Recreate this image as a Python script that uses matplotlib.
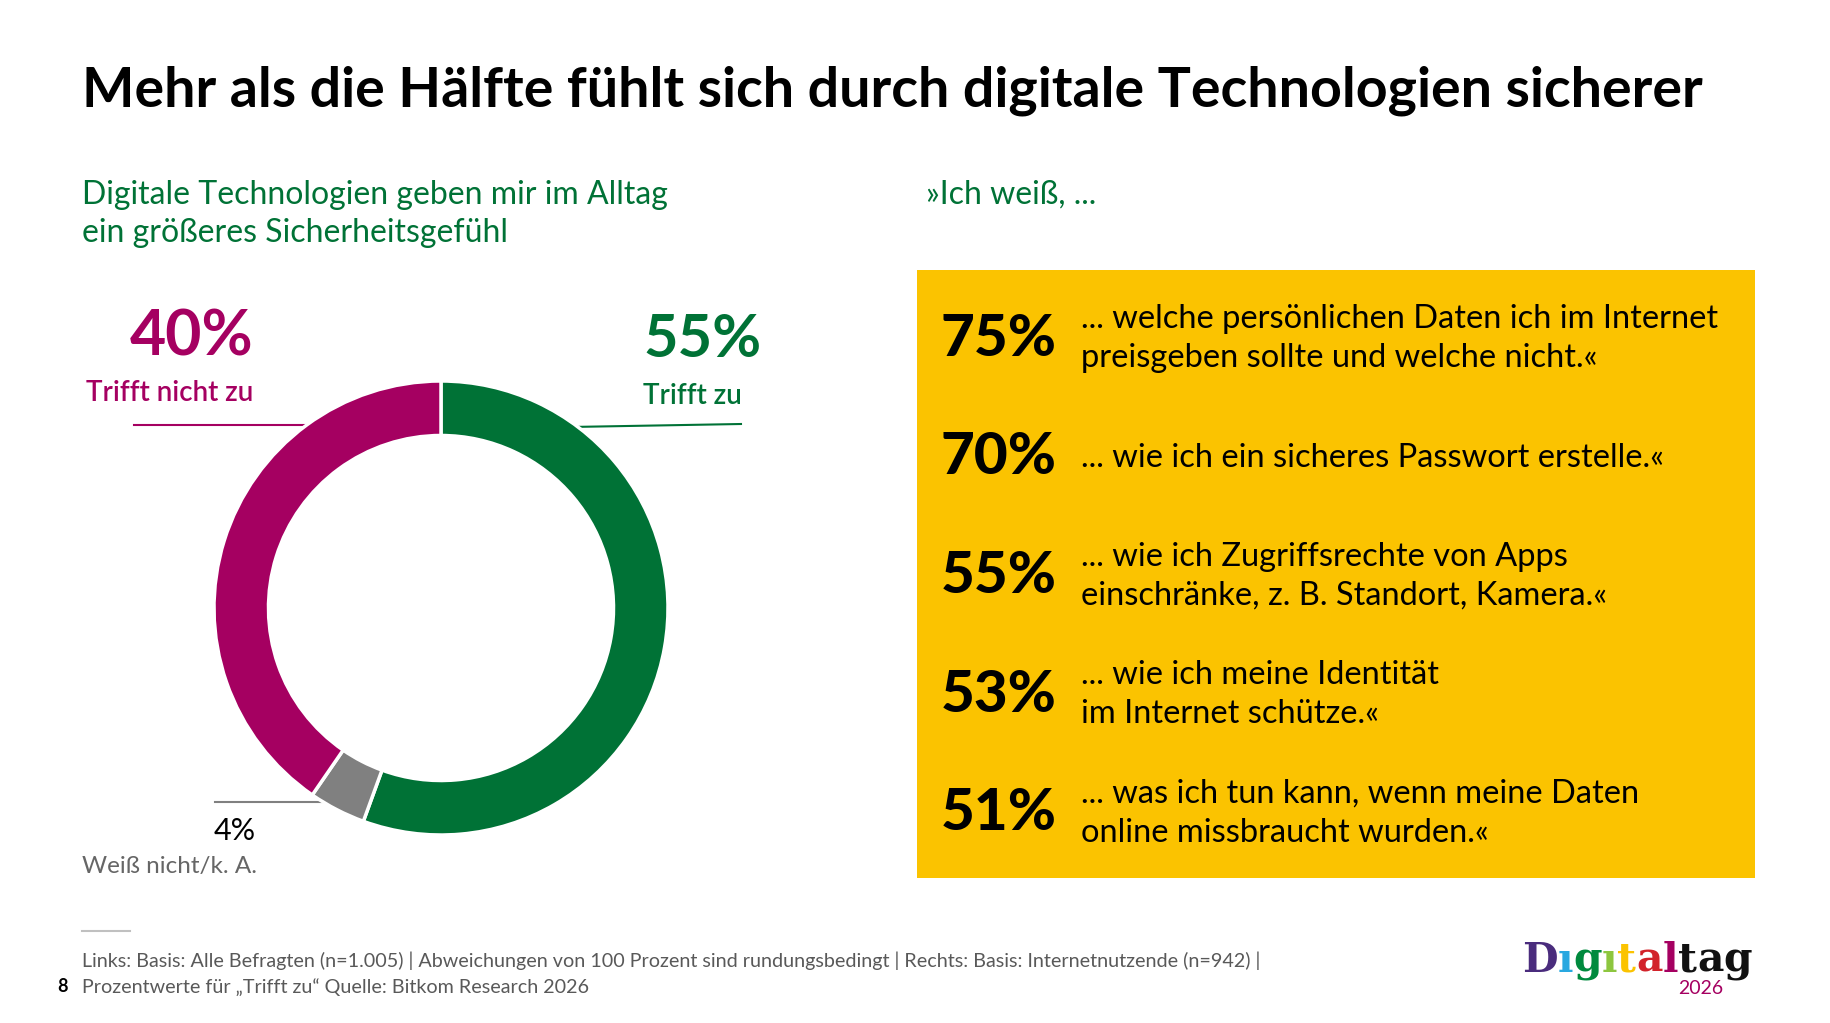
import matplotlib.pyplot as plt
from matplotlib.patches import Rectangle

plt.rcParams['font.family'] = ['Lato', 'DejaVu Sans']

# Daten
donut_labels = ["Trifft zu", "Weiß nicht/k. A.", "Trifft nicht zu"]
donut_values = [55, 4, 40]

item_values = [75, 70, 55, 53, 51]
item_texts = [
    ["... welche persönlichen Daten ich im Internet", "preisgeben sollte und welche nicht.«"],
    ["... wie ich ein sicheres Passwort erstelle.«"],
    ["... wie ich Zugriffsrechte von Apps", "einschränke, z. B. Standort, Kamera.«"],
    ["... wie ich meine Identität", "im Internet schütze.«"],
    ["... was ich tun kann, wenn meine Daten", "online missbraucht wurden.«"],
]

title = "Mehr als die Hälfte fühlt sich durch digitale Technologien sicherer"
left_sub = ["Digitale Technologien geben mir im Alltag", "ein größeres Sicherheitsgefühl"]
right_sub = "»Ich weiß, ..."
footer = ["Links: Basis: Alle Befragten (n=1.005) | Abweichungen von 100 Prozent sind rundungsbedingt | Rechts: Basis: Internetnutzende (n=942) |",
          "Prozentwerte für „Trifft zu“ Quelle: Bitkom Research 2026"]

green = "#007236"
magenta = "#A50061"
grey = "#808080"
yellow = "#FBC300"

W, H = 1831, 1023
fig = plt.figure(figsize=(W / 100, H / 100), dpi=100)
ax = fig.add_axes([0, 0, 1, 1])
ax.set_xlim(0, W)
ax.set_ylim(H, 0)
ax.axis('off')

# Titel
ax.text(82, 91, title, fontsize=40, fontweight='bold', color='black', va='center', ha='left')

for i, line in enumerate(left_sub):
    ax.text(82, 195 + i * 38, line, fontsize=23, color=green, va='center', ha='left')
ax.text(926, 195, right_sub, fontsize=23, color=green, va='center', ha='left')

# Donut
cx, cy, r = 441, 608, 227
ax.plot([134, 312], [425, 425], color=magenta, lw=1.5)
ax.plot([570, 741], [427, 424], color=green, lw=1.5)
ax.plot([215, 340], [802, 802], color=grey, lw=1.5)

pax = fig.add_axes([(cx - r) / W, (H - cy - r) / H, 2 * r / W, 2 * r / H])
pax.pie(donut_values, colors=[green, grey, magenta], startangle=90, counterclock=False,
        radius=1, wedgeprops=dict(width=0.24, edgecolor='white', linewidth=2.5))
pax.set_xlim(-1, 1)
pax.set_ylim(-1, 1)
pax.axis('off')

ax.text(253, 337, f"{donut_values[2]}%", fontsize=45, fontweight='bold', color=magenta, ha='right', va='center')
ax.text(253, 393, donut_labels[2], fontsize=20, fontweight='semibold', color=magenta, ha='right', va='center')
ax.text(643, 340, f"{donut_values[0]}%", fontsize=43, fontweight='bold', color=green, ha='left', va='center')
ax.text(643, 396, donut_labels[0], fontsize=20, fontweight='semibold', color=green, ha='left', va='center')
ax.text(256, 831, f"{donut_values[1]}%", fontsize=22, color='black', ha='right', va='center')
ax.text(257, 867, donut_labels[1], fontsize=17.5, color='#666666', ha='right', va='center')

# Kasten rechts
ax.add_patch(Rectangle((917, 270), 838, 608, facecolor=yellow, edgecolor='none'))
for i, (v, lines) in enumerate(zip(item_values, item_texts)):
    y = 339 + i * 118.75
    ax.text(941, y, f"{v}%", fontsize=42, fontweight='black', color='black', ha='left', va='center')
    if len(lines) == 1:
        ax.text(1081, y, lines[0], fontsize=23.5, color='black', ha='left', va='center')
    else:
        ax.text(1081, y - 20, lines[0], fontsize=23.5, color='black', ha='left', va='center')
        ax.text(1081, y + 19, lines[1], fontsize=23.5, color='black', ha='left', va='center')

# Fußzeile
ax.plot([82, 130], [931, 931], color='#c0c0c0', lw=1.5)
ax.text(82, 961, footer[0], fontsize=14.2, color='#595959', ha='left', va='center')
ax.text(82, 987, footer[1], fontsize=14.2, color='#595959', ha='left', va='center')
ax.text(63, 987, "8", fontsize=13, fontweight='bold', color='black', ha='center', va='center')

# Logo
logo = "Dıgıtaltag"
logo_colors = ["#4A2C7D", "#29A8E0", "#008A3E", "#8DC63F", "#FBC300", "#D2232A", "#A50061", "#111111", "#111111", "#111111"]
prev = ax.text(1522, 972, logo[0], fontsize=29.5, fontweight='bold', family='DejaVu Serif',
               color=logo_colors[0], ha='left', va='baseline')
for ch, c in zip(logo[1:], logo_colors[1:]):
    prev = ax.annotate(ch, xy=(1, 0), xycoords=prev, fontsize=29.5, fontweight='bold',
                       family='DejaVu Serif', color=c, ha='left', va='bottom')
ax.text(1701, 988, "2026", fontsize=14, color=magenta, ha='center', va='center')

plt.savefig("out.png", dpi=100)
